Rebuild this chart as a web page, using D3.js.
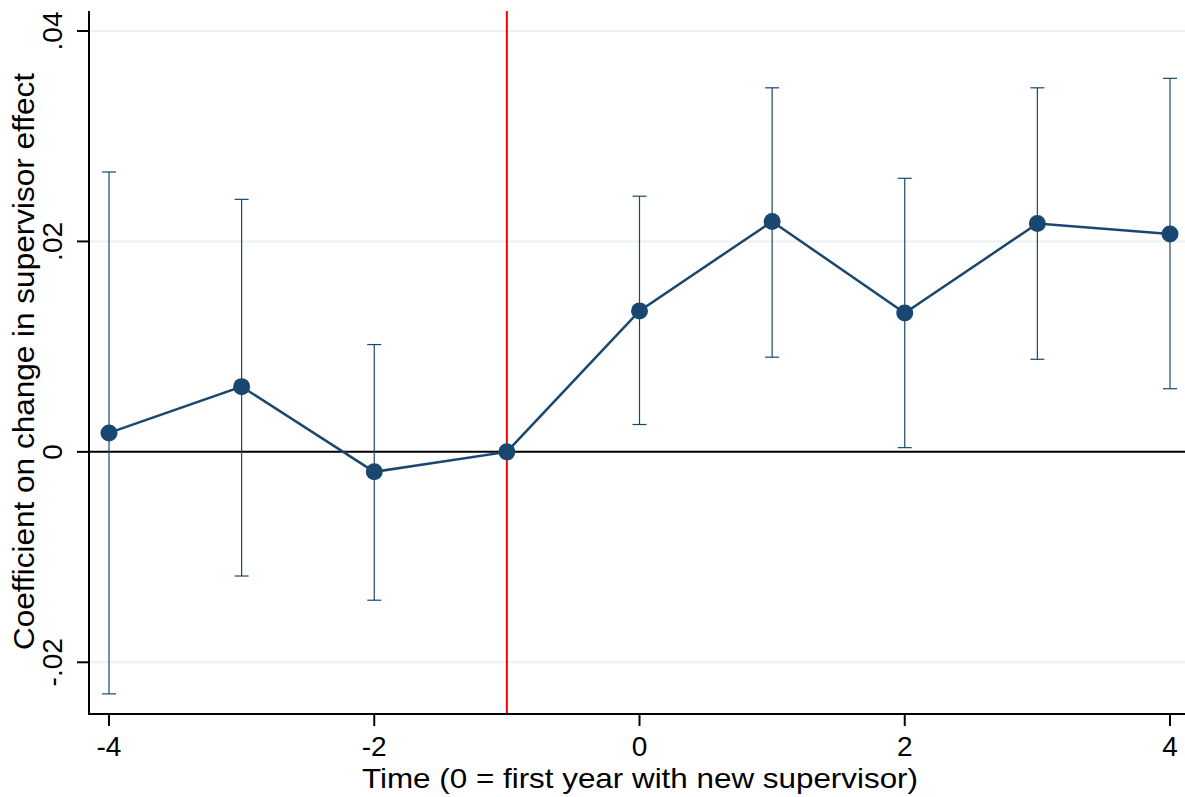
<!DOCTYPE html>
<html><head><meta charset="utf-8">
<script src="https://cdn.jsdelivr.net/npm/d3@7"></script>
<style>body{margin:0;background:#fff}svg{display:block}text{font-family:"Liberation Sans",Arial,sans-serif;fill:#000}</style>
</head><body><svg id="c" width="1185" height="797"></svg>
<script>
const times = [-4,-3,-2,-1,0,1,2,3,4];
const coef  = [0.0018,0.0062,-0.0019,0,0.0134,0.0219,0.0132,0.0217,0.0207];
const ciLo  = [-0.0230,-0.0118,-0.0141,null,0.0026,0.0090,0.0004,0.0088,0.0060];
const ciHi  = [0.0266,0.0240,0.0102,null,0.0243,0.0346,0.0260,0.0346,0.0355];
const xTicks = [-4,-2,0,2,4];
const yTicks = [-0.02,0,0.02,0.04];
const yTickLabels = ["-.02","0",".02",".04"];
const gridVals = [-0.02,0.02,0.04];
const refX = -1;

const W=1185,H=797, L=89, R=1185, T=11, B=714;
const svg=d3.select("#c");
const x=d3.scaleLinear().domain([-4,4]).range([109,1170]);
const y=d3.scaleLinear().domain([-0.02,0.04]).range([662.3,31]);
const navy="#1a476f";

svg.append("g").selectAll("line").data(gridVals).join("line")
  .attr("x1",L).attr("x2",R).attr("y1",d=>y(d)).attr("y2",d=>y(d))
  .attr("stroke","#eaf2f3").attr("stroke-width",2);

svg.append("line").attr("x1",L).attr("x2",R).attr("y1",y(0)).attr("y2",y(0)).attr("stroke","#000").attr("stroke-width",2);
svg.append("line").attr("x1",x(refX)).attr("x2",x(refX)).attr("y1",T).attr("y2",B).attr("stroke","#ff0000").attr("stroke-width",2);

const ci=times.map((t,i)=>({t,lo:ciLo[i],hi:ciHi[i]})).filter(d=>d.lo!==null);
const eg=svg.append("g").attr("stroke",navy).attr("stroke-width",1.2).attr("fill","none");
ci.forEach(d=>{
  eg.append("line").attr("x1",x(d.t)).attr("x2",x(d.t)).attr("y1",y(d.lo)).attr("y2",y(d.hi));
  [d.lo,d.hi].forEach(v=>eg.append("line").attr("x1",x(d.t)-7).attr("x2",x(d.t)+7).attr("y1",y(v)).attr("y2",y(v)));
});

const pts=times.map((t,i)=>({t,v:coef[i]}));
svg.append("path").datum(pts).attr("d",d3.line().x(d=>x(d.t)).y(d=>y(d.v)))
  .attr("fill","none").attr("stroke",navy).attr("stroke-width",2.5);
svg.append("g").selectAll("circle").data(pts).join("circle")
  .attr("cx",d=>x(d.t)).attr("cy",d=>y(d.v)).attr("r",8.5).attr("fill",navy);

svg.append("line").attr("x1",L).attr("x2",L).attr("y1",T).attr("y2",B+1).attr("stroke","#000").attr("stroke-width",2);
svg.append("line").attr("x1",L-1).attr("x2",R).attr("y1",B).attr("y2",B).attr("stroke","#000").attr("stroke-width",2);

const xa=svg.append("g");
xa.selectAll("line").data(xTicks).join("line").attr("x1",d=>x(d)).attr("x2",d=>x(d)).attr("y1",B).attr("y2",B+12).attr("stroke","#000").attr("stroke-width",2);
xa.selectAll("text").data(xTicks).join("text").attr("x",d=>x(d)).attr("y",756).attr("text-anchor","middle").attr("font-size",28).text(d=>d);

const ya=svg.append("g");
ya.selectAll("line").data(yTicks).join("line").attr("x1",L-12).attr("x2",L).attr("y1",d=>y(d)).attr("y2",d=>y(d)).attr("stroke","#000").attr("stroke-width",2);
ya.selectAll("text").data(yTicks).join("text")
  .attr("transform",(d)=>`translate(62,${y(d)}) rotate(-90)`).attr("text-anchor","middle").attr("font-size",28)
  .text((d,i)=>yTickLabels[i]);

svg.append("text").attr("x",640).attr("y",788).attr("text-anchor","middle").attr("font-size",28)
  .attr("textLength",556).attr("lengthAdjust","spacingAndGlyphs").text("Time (0 = first year with new supervisor)");
svg.append("text").attr("transform",`translate(34,361.5) rotate(-90)`).attr("text-anchor","middle").attr("font-size",29)
  .attr("textLength",577).attr("lengthAdjust","spacingAndGlyphs").text("Coefficient on change in supervisor effect");
</script></body></html>
